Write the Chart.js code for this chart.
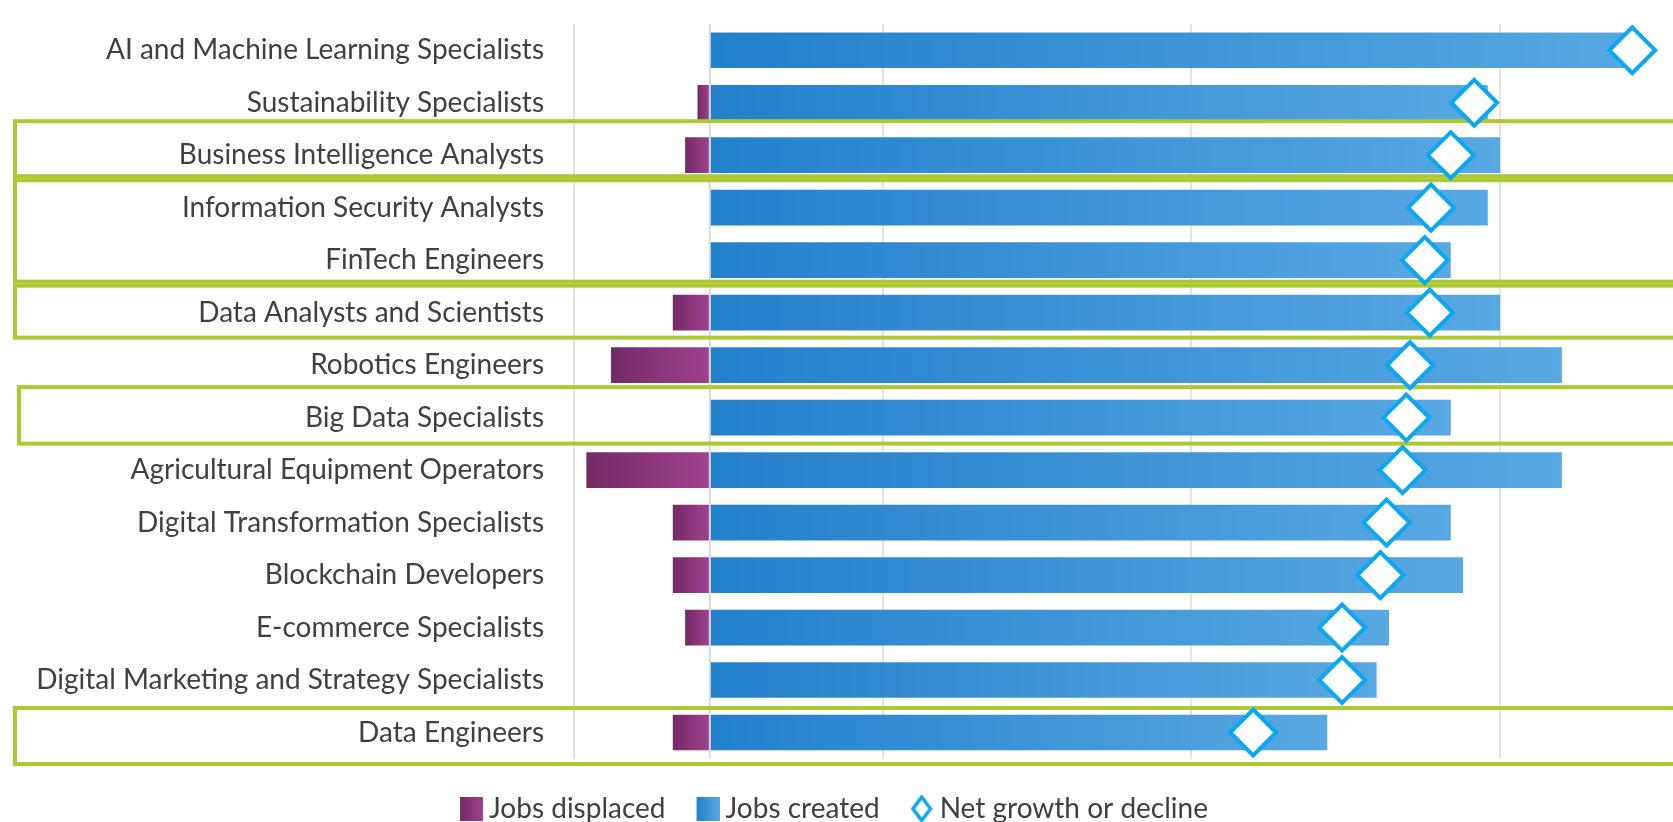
<!DOCTYPE html>
<html>
<head>
<meta charset="utf-8">
<title>Jobs displaced and created</title>
<script src="https://cdn.jsdelivr.net/npm/chart.js@4.4.1/dist/chart.umd.min.js"></script>
<style>
    html, body { margin: 0; padding: 0; background: #ffffff; }
    #wrap { width: 1673px; height: 822px; }
</style>
</head>
<body>
<div id="wrap"><canvas id="jobsChart" width="1673" height="822"></canvas></div>
<script>
// chart data, top row first
var categories = [
    'AI and Machine Learning Specialists',
    'Sustainability Specialists',
    'Business Intelligence Analysts',
    'Information Security Analysts',
    'FinTech Engineers',
    'Data Analysts and Scientists',
    'Robotics Engineers',
    'Big Data Specialists',
    'Agricultural Equipment Operators',
    'Digital Transformation Specialists',
    'Blockchain Developers',
    'E-commerce Specialists',
    'Digital Marketing and Strategy Specialists',
    'Data Engineers'
];
var jobsDisplaced = [0, -1, -2, 0, 0, -3, -8, 0, -10, -3, -3, -2, 0, -3];
var jobsCreated = [75, 63, 64, 63, 60, 64, 69, 60, 69, 60, 61, 55, 54, 50];
var netGrowth = [74.7, 61.9, 60, 58.4, 57.9, 58.3, 56.7, 56.4, 56.1, 54.8, 54.3, 51.2, 51.2, 44];
var seriesNames = ['Jobs displaced', 'Jobs created', 'Net growth or decline'];

// hidden value axis (no labels, only the vertical gridlines)
var axisMin = -11;
var axisMax = 78;
var gridTicks = [-11, 14, 39, 64];

// rows outlined in green (first row, last row)
var highlightGroups = [
    ['Business Intelligence Analysts', 'Business Intelligence Analysts'],
    ['Information Security Analysts', 'FinTech Engineers'],
    ['Data Analysts and Scientists', 'Data Analysts and Scientists'],
    ['Big Data Specialists', 'Big Data Specialists'],
    ['Data Engineers', 'Data Engineers']
];

// box outlines are hand drawn in the original, so each one has its own offsets
var boxStyles = [
    { left: 15, top: -34, bottom: 21 },
    { left: 15, top: -27.5, bottom: 21.5 },
    { left: 15, top: -27, bottom: 25 },
    { left: 19, top: -30.5, bottom: 26 },
    { left: 15, top: -24.5, bottom: 31.5 }
];

var purpleDark = '#722a66', purpleLight = '#a1428f';
var blueDark = '#2380cb', blueLight = '#58a8e2';
var diamondBlue = '#08a8f4';
var labelColor = '#404040';
var fontFamily = 'Lato, "Open Sans", sans-serif';

function barGradient(ctx, dark, light) {
    var chart = ctx.chart;
    if (!chart.chartArea || !chart.scales.x) {
        return light;
    }
    var xScale = chart.scales.x;
    var x0 = xScale.getPixelForValue(0);
    var x1 = xScale.getPixelForValue(ctx.raw);
    if (Math.abs(x1 - x0) < 1) {
        return light;
    }
    var g = chart.ctx.createLinearGradient(Math.min(x0, x1), 0, Math.max(x0, x1), 0);
    g.addColorStop(0, dark);
    g.addColorStop(1, light);
    return g;
}

// legend icons; the transparent strip on the left moves the mark
// a little to the right inside the legend box
function swatch(padLeft, w, h, dark, light) {
    var cv = document.createElement('canvas');
    cv.width = padLeft + w;
    cv.height = h;
    var c = cv.getContext('2d');
    var g = c.createLinearGradient(padLeft, 0, padLeft + w, 0);
    g.addColorStop(0, dark);
    g.addColorStop(1, light);
    c.fillStyle = g;
    c.fillRect(padLeft, 0, w, h);
    return cv;
}

function diamondIcon(padLeft, w, h, lw) {
    var cv = document.createElement('canvas');
    cv.width = padLeft + w;
    cv.height = h;
    var c = cv.getContext('2d');
    var p = lw / 2 + 0.5;
    c.translate(padLeft, 0);
    c.beginPath();
    c.moveTo(w / 2, p);
    c.lineTo(w - p, h / 2);
    c.lineTo(w / 2, h - p);
    c.lineTo(p, h / 2);
    c.closePath();
    c.fillStyle = '#ffffff';
    c.fill();
    c.lineWidth = lw;
    c.strokeStyle = diamondBlue;
    c.stroke();
    return cv;
}

var legendIcons = [
    swatch(3, 23, 24, purpleDark, purpleLight),
    swatch(3, 23, 24, blueDark, blueLight),
    diamondIcon(2, 22, 28, 3.5)
];

var overlayPlugin = {
    id: 'overlay',
    beforeDatasetDraw: function (chart, args) {
        if (args.meta.type !== 'line') return;
        var c = chart.ctx;
        var xs = chart.scales.x, ys = chart.scales.y, area = chart.chartArea;

        // zero line sits over the bars, leaving the small gap between them
        var x0 = xs.getPixelForValue(0);
        c.save();
        c.strokeStyle = '#d9d9d9';
        c.lineWidth = 2;
        c.beginPath();
        c.moveTo(x0, area.top);
        c.lineTo(x0, area.bottom);
        c.stroke();

        // green outlines
        c.strokeStyle = '#adc932';
        c.lineWidth = 4;
        highlightGroups.forEach(function (grp, i) {
            var s = boxStyles[i];
            var top = ys.getPixelForValue(categories.indexOf(grp[0])) + s.top;
            var bottom = ys.getPixelForValue(categories.indexOf(grp[1])) + s.bottom;
            c.strokeRect(s.left, top, chart.width + 20 - s.left, bottom - top);
        });
        c.restore();
    }
};

var ctx = document.getElementById('jobsChart').getContext('2d');
var jobsChart = new Chart(ctx, {
    type: 'bar',
    data: {
        labels: categories,
        datasets: [
            {
                label: seriesNames[0],
                data: jobsDisplaced,
                backgroundColor: function (c) { return barGradient(c, purpleDark, purpleLight); },
                borderWidth: 0,
                barPercentage: 0.68,
                categoryPercentage: 1,
                order: 1
            },
            {
                label: seriesNames[1],
                data: jobsCreated,
                backgroundColor: function (c) { return barGradient(c, blueDark, blueLight); },
                borderWidth: 0,
                barPercentage: 0.68,
                categoryPercentage: 1,
                order: 1
            },
            {
                type: 'line',
                label: seriesNames[2],
                data: netGrowth,
                indexAxis: 'y',
                showLine: false,
                pointStyle: 'rectRot',
                pointRadius: 23,
                pointHoverRadius: 23,
                pointBorderWidth: 4,
                pointBorderColor: diamondBlue,
                pointBackgroundColor: '#ffffff',
                clip: false,
                order: 0
            }
        ]
    },
    options: {
        indexAxis: 'y',
        responsive: false,
        animation: false,
        devicePixelRatio: 1,
        layout: {
            autoPadding: false,
            padding: { top: 24, right: 0, bottom: -10.75, left: 0 }
        },
        scales: {
            x: {
                stacked: true,
                min: axisMin,
                max: axisMax,
                border: { display: false },
                ticks: { display: false },
                grid: {
                    drawTicks: false,
                    lineWidth: 2,
                    color: '#e3e3e3'
                },
                afterBuildTicks: function (scale) {
                    scale.ticks = gridTicks.map(function (v) { return { value: v }; });
                },
                afterFit: function (scale) { scale.height = 0; }
            },
            y: {
                stacked: true,
                border: { display: false },
                grid: { display: false, drawTicks: false },
                ticks: {
                    color: labelColor,
                    padding: 30,
                    font: { family: fontFamily, size: 28 }
                },
                afterFit: function (scale) {
                    scale.width = 574;
                    scale.paddingTop = 0;
                    scale.paddingBottom = 0;
                }
            }
        },
        plugins: {
            tooltip: { enabled: false },
            legend: {
                position: 'bottom',
                labels: {
                    usePointStyle: true,
                    pointStyleWidth: 10,
                    padding: 36,
                    color: labelColor,
                    font: { family: fontFamily, size: 28 },
                    generateLabels: function (chart) {
                        return seriesNames.map(function (name, i) {
                            return {
                                text: name,
                                pointStyle: legendIcons[i],
                                fillStyle: '#ffffff',
                                strokeStyle: 'rgba(0,0,0,0)',
                                lineWidth: 0,
                                hidden: false,
                                datasetIndex: i,
                                fontColor: labelColor
                            };
                        });
                    }
                }
            }
        }
    },
    plugins: [overlayPlugin]
});
</script>
</body>
</html>
